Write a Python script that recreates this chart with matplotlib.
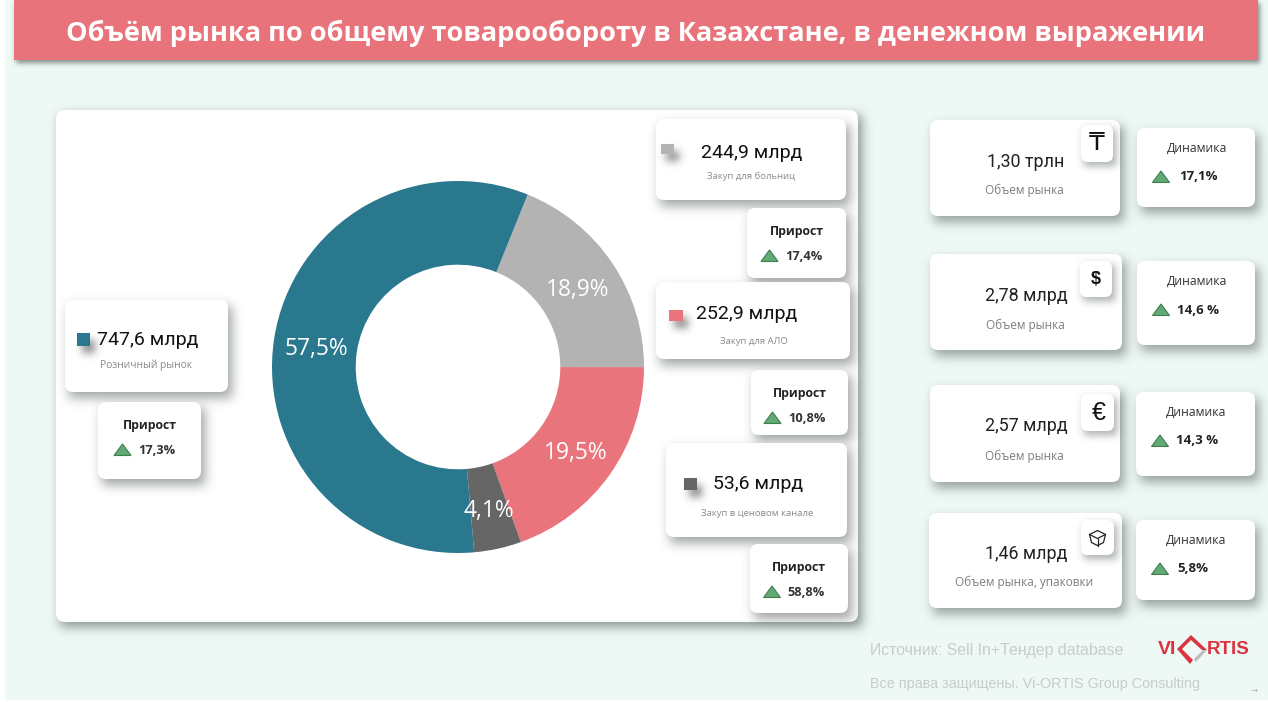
import math
import matplotlib
matplotlib.use("Agg")
import numpy as np
import matplotlib.pyplot as plt
from matplotlib.patches import FancyBboxPatch, Rectangle, Polygon

plt.rcParams['font.family'] = ['Open Sans', 'DejaVu Sans']

TITLE = "Объём рынка по общему товарообороту в Казахстане, в денежном выражении"
shares = [18.9, 19.5, 4.1, 57.5]
share_labels = ["18,9%", "19,5%", "4,1%", "57,5%"]
seg_colors = ["#B3B3B3", "#E9747B", "#666666", "#2A788E"]

seg_values = ["244,9 млрд", "252,9 млрд", "53,6 млрд", "747,6 млрд"]
seg_names = ["Закуп для больниц", "Закуп для АЛО", "Закуп в ценовом канале", "Розничный рынок"]
seg_growth = ["17,4%", "10,8%", "58,8%", "17,3%"]

kpi_values = ["1,30 трлн", "2,78 млрд", "2,57 млрд", "1,46 млрд"]
kpi_names = ["Объем рынка", "Объем рынка", "Объем рынка", "Объем рынка, упаковки"]
kpi_dyn = ["17,1%", "14,6 %", "14,3 %", "5,8%"]

W, H = 1268, 702
BG = "#EEF8F5"
fig = plt.figure(figsize=(W / 100, H / 100), dpi=100, facecolor="white")


def new_layer(z):
    a = fig.add_axes([0, 0, 1, 1], zorder=z)
    a.set_xlim(0, W); a.set_ylim(H, 0); a.axis("off"); a.patch.set_alpha(0)
    return a


verf = np.vectorize(math.erf)
XS = np.arange(W) + 0.5
YS = np.arange(H) + 0.5


def shadows(ax, rects, sigma, peak, color=(0.17, 0.22, 0.21), z=1):
    keep = np.ones((H, W))
    k = sigma * math.sqrt(2)
    for x0, y0, x1, y1 in rects:
        fx = 0.5 * (verf((XS - x0) / k) - verf((XS - x1) / k))
        fy = 0.5 * (verf((YS - y0) / k) - verf((YS - y1) / k))
        keep *= 1 - peak * np.outer(fy, fx)
    img = np.zeros((H, W, 4))
    img[..., 0], img[..., 1], img[..., 2] = color
    img[..., 3] = 1 - keep
    ax.imshow(img, extent=(0, W, H, 0), zorder=z, interpolation="nearest", aspect="auto")
    ax.set_xlim(0, W); ax.set_ylim(H, 0)


def rbox(ax, x0, y0, x1, y1, r=8, fc="white", z=2):
    ax.add_patch(FancyBboxPatch((x0 + r, y0 + r), x1 - x0 - 2 * r, y1 - y0 - 2 * r,
                                boxstyle=f"round,pad={r},rounding_size={r}",
                                fc=fc, ec="none", zorder=z))


def off(box, dx, dy, grow=0):
    return (box[0] + dx - grow, box[1] + dy - grow, box[2] + dx + grow, box[3] + dy + grow)


def tri(ax, cx, cy, z=6):
    ax.add_patch(Polygon([(cx - 8.5, cy + 5.5), (cx + 8.5, cy + 5.5), (cx, cy - 6)], closed=True,
                         fc="#62A974", ec="#3F7D52", lw=0.8, zorder=z))


def T(ax, x, y, s, size, color="#222222", weight="normal", family=None, ha="center", z=7):
    kw = {"family": family} if family else {}
    ax.text(x, y, s, fontsize=size, color=color, fontweight=weight, ha=ha, va="center", zorder=z, **kw)


# ---------- base layer: page, title bar, main card
base = new_layer(1)
base.add_patch(Rectangle((5, 0), W - 5, 700, fc=BG, ec="none", zorder=0))
TITLE_BOX = (14, 0, 1258, 60)
MAIN_BOX = (56, 110, 858, 622)
shadows(base, [off(TITLE_BOX, 2, 3)], 2.5, 0.55, z=1)
shadows(base, [off(MAIN_BOX, 4, 5)], 5.5, 0.5, z=1)
base.add_patch(Rectangle((14, 0), 1244, 60, fc="#E8737A", ec="none", zorder=2))
T(base, 636, 33, TITLE, 19.5, "white", "bold")
rbox(base, *MAIN_BOX, r=9, z=2)

# ---------- donut
ax = fig.add_axes([(458 - 186) / W, 1 - (367 + 186) / H, 372 / W, 372 / H], zorder=2)
ax.patch.set_alpha(0)
ax.pie(shares, colors=seg_colors, startangle=68, counterclock=False, radius=1,
       wedgeprops=dict(width=0.45, edgecolor="none"))
ax.set_xlim(-1, 1); ax.set_ylim(-1, 1)

# ---------- cards
top = new_layer(3)
seg_boxes = [
    ((656, 119, 846, 200), (661, 144, 13, 10), (752, 153), (751, 176), (747, 208, 846, 278)),
    ((656, 282, 850, 359), (669, 310, 14, 11), (747, 314), (754, 341), (751, 370, 848, 435)),
    ((666, 443, 847, 537), (684, 478, 13, 12), (758, 484), (757, 513), (750, 544, 848, 613)),
    ((65, 300, 228, 392), (77, 333, 13, 13), (148, 340), (146, 365), (98, 402, 201, 479)),
]
kpi_boxes = [
    ((930, 120, 1120, 216), (1026, 162), 190, (1081, 125, 1113, 162), (1137, 128, 1255, 207)),
    ((930, 254, 1122, 350), (1026, 296), 325, (1080, 261, 1112, 297), (1137, 261, 1255, 345)),
    ((930, 385, 1120, 482), (1026, 426), 456, (1081, 394, 1114, 431), (1136, 392, 1255, 476)),
    ((929, 513, 1122, 608), (1026, 554), 582, (1081, 520, 1114, 555), (1136, 520, 1255, 600)),
]
card_rects = []
for b in seg_boxes:
    card_rects += [off(b[0], 4, 6), off(b[4], 4, 6)]
for b in kpi_boxes:
    card_rects += [off(b[0], 4, 6), off(b[4], 4, 6)]
shadows(top, card_rects, 5.5, 0.45, z=1)

for (box, sw, vp, np_, gb), val, name, g, c in zip(seg_boxes, seg_values, seg_names, seg_growth, seg_colors):
    rbox(top, *box, r=8, z=2)
    rbox(top, *gb, r=8, z=2)
    T(top, vp[0], vp[1], val, 14, "#111111", family=["Roboto", "DejaVu Sans"])
    T(top, np_[0], np_[1], name, 7.4 if name.startswith("Розн") else 6.8, "#8a8a8a")
    gx = (gb[0] + gb[2]) / 2
    T(top, gx, gb[1] + 23, "Прирост", 8.8, "#222222", "bold")
    tri(top, gx - 27, gb[1] + 48)
    T(top, gx + 7, gb[1] + 49, g, 9.2, "#333333", "bold")

for box, vp, ny, ib, db in kpi_boxes:
    rbox(top, *box, r=8, z=2)
    rbox(top, *db, r=8, z=2)

# swatches and icon tiles sit on the cards, with their own shadows
upper = new_layer(4)
icon_rects = [off(b[3], 3, 4) for b in kpi_boxes]
swatch_rects = [(s[1][0] + 5, s[1][1] + 7, s[1][0] + s[1][2] + 5, s[1][1] + s[1][3] + 7) for s in seg_boxes]
shadows(upper, icon_rects, 4, 0.4, z=1)
shadows(upper, swatch_rects, 4, 0.6, color=(0.25, 0.25, 0.25), z=1)
for s, c in zip(seg_boxes, seg_colors):
    upper.add_patch(Rectangle((s[1][0], s[1][1]), s[1][2], s[1][3], fc=c, ec="none", zorder=3))
    T(upper, s[2][0], s[2][1], "", 1)

lab_pos = [(578, 290), (576, 453), (489, 511), (316, 349)]
for (x, y), s in zip(lab_pos, share_labels):
    T(upper, x, y, s, 16.4, "white")

for i, ((box, vp, ny, ib, db), v, n, d) in enumerate(zip(kpi_boxes, kpi_values, kpi_names, kpi_dyn)):
    T(upper, vp[0], vp[1], v, 12.9, "#222222", family=["Roboto", "DejaVu Sans"])
    T(upper, (box[0] + box[2]) / 2 - 1, ny, n, 8.5, "#7d7d7d")
    rbox(upper, *ib, r=7, z=3)
    cx, cy = (ib[0] + ib[2]) / 2, (ib[1] + ib[3]) / 2
    if i == 0:
        T(upper, cx, cy - 1, "₸", 18, "#111111", family=["DejaVu Sans"])
    elif i == 1:
        T(upper, cx, cy, "$", 13, "#111111", "bold", family=["Liberation Sans"])
    elif i == 2:
        T(upper, cx + 1, cy, "€", 18, "#111111", family=["Liberation Sans"])
    else:
        upper.add_patch(Polygon([(cx - 8, cy - 3), (cx, cy - 7), (cx + 8, cy - 3), (cx + 6, cy + 5), (cx, cy + 8), (cx - 6, cy + 5)],
                                closed=True, fc="none", ec="#222222", lw=0.9, zorder=7))
        upper.plot([cx - 8, cx, cx + 8], [cy - 3, cy + 1, cy - 3], color="#222222", lw=0.9, zorder=7)
        upper.plot([cx, cx], [cy + 1, cy + 8], color="#222222", lw=0.9, zorder=7)
    T(top, db[0] + 60, db[1] + 20, "Динамика", 8.8, "#333333")
    tri(top, db[0] + 24, db[1] + 49)
    T(top, db[0] + 61 + (0 if i < 3 else -4), db[1] + 49, d, 9.5, "#222222", "bold")

# ---------- footer and logo
T(upper, 870, 651, "Источник: Sell In+Тендер database", 11.4, "#C8CCCB", family=["Liberation Sans"], ha="left")
T(upper, 870, 684, "Все права защищены. Vi-ORTIS Group Consulting", 10.4, "#C8CCCB", family=["Liberation Sans"], ha="left")
T(upper, 1254, 690, "→", 6, "#AAB0AE", family=["DejaVu Sans"])

LOGO = "#D9343F"
T(upper, 1167, 649, "VI", 14, LOGO, "bold", family=["Liberation Sans"])
T(upper, 1228, 649, "RTIS", 13.5, LOGO, "bold", family=["Liberation Sans"])
upper.add_patch(Polygon([(1177, 649), (1191, 635), (1207, 650), (1202, 650), (1191, 640), (1182, 649), (1193, 660), (1190, 664)],
                        closed=True, fc=LOGO, ec="none", zorder=7))
upper.add_patch(Polygon([(1194, 659), (1203, 650), (1207, 650), (1196, 662)], closed=True, fc="#BDBDBD", ec="none", zorder=6.5))

fig.savefig("out.png", dpi=100, facecolor="white")
